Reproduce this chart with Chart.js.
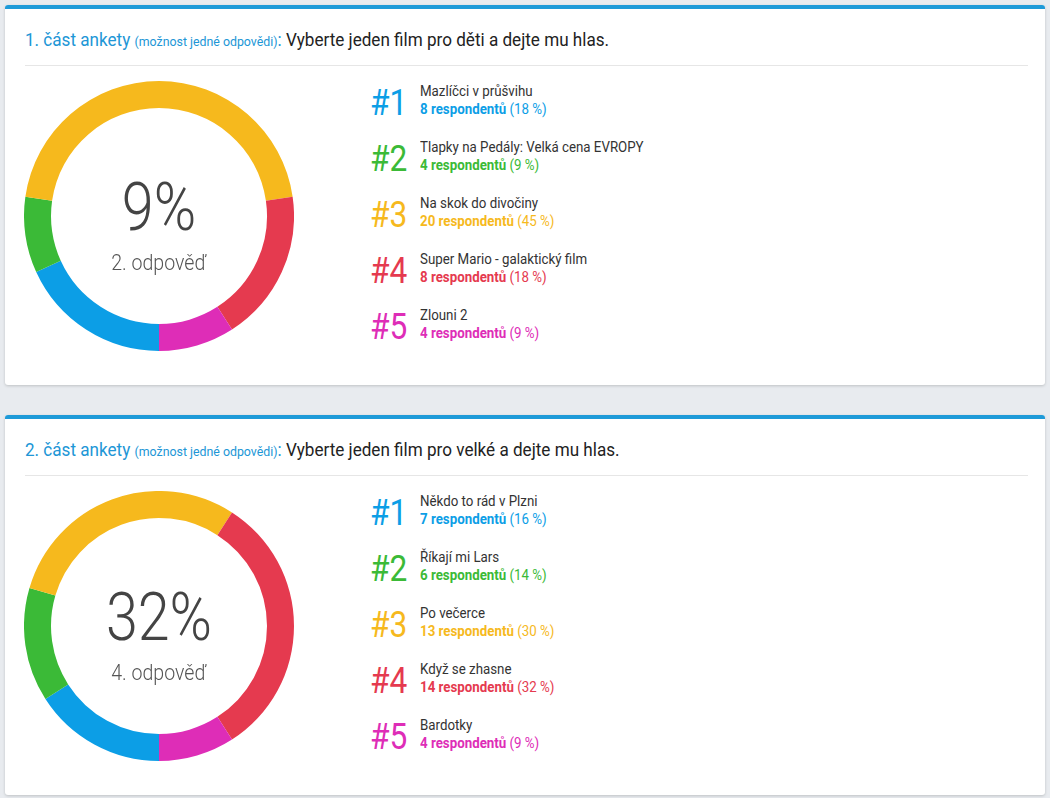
<!DOCTYPE html>
<html>
<head>
<meta charset="utf-8">
<script src="https://cdn.jsdelivr.net/npm/chart.js@4.4.0/dist/chart.umd.min.js"></script>
<style>
  body { margin: 0; background: #e8ebef; font-family: Roboto, sans-serif; width: 1050px; height: 798px; overflow: hidden; position: relative; }
  .card { position: absolute; left: 5px; width: 1040px; height: 380px; background: #fff; border-radius: 3px; box-shadow: 0 1px 3px rgba(0,0,0,0.18); }
  .card .bar { position: absolute; left: 0; top: 0; right: 0; height: 4px; background: #1e9ad8; border-radius: 3px 3px 0 0; }
  .card h2 { position: absolute; left: 20px; top: 24px; margin: 0; font-weight: 400; font-size: 18px; color: #222; white-space: nowrap; transform: scaleX(0.95); transform-origin: left center; }
  .card h2 .part { color: #2196d6; }
  .card h2 .hint { color: #2196d6; font-size: 13px; }
  .card .sep { position: absolute; left: 20px; top: 60px; width: 1003px; height: 1px; background: #e6e6e6; }
  .chartbox { position: absolute; left: 19px; top: 76px; width: 270px; height: 270px; }
  .center { position: absolute; left: 19px; top: 76px; width: 270px; height: 270px; text-align: center; pointer-events: none; }
  .center .big { position: absolute; left: 0; right: 0; top: 94px; font-size: 66px; font-weight: 300; color: #444; line-height: 66px; transform: scaleX(0.87); }
  .center .small { position: absolute; left: 0; right: 0; top: 170px; font-size: 22px; font-weight: 300; color: #555; line-height: 24px; transform: scaleX(0.89); }
  .legend { position: absolute; left: 365px; top: 76px; }
  .item { position: relative; height: 56px; }
  .item .num { position: absolute; left: 0; top: 2px; font-size: 36px; line-height: 40px; transform: scaleX(0.88); transform-origin: left center; }
  .item .name, .item .count { position: absolute; left: 50px; font-size: 14px; white-space: nowrap; transform: scaleX(0.95); transform-origin: left center; }
  .item .name { top: 2px; color: #333; }
  .item .count { top: 20px; }
  .item .count b { font-weight: 700; }
</style>
</head>
<body>
<script>
// poll 1: films for kids
const poll1Title = "Vyberte jeden film pro děti a dejte mu hlas.";
const poll1Labels = ["Mazlíčci v průšvihu", "Tlapky na Pedály: Velká cena EVROPY", "Na skok do divočiny", "Super Mario - galaktický film", "Zlouni 2"];
const poll1Votes = [8, 4, 20, 8, 4];
const poll1Percent = [18, 9, 45, 18, 9];
const poll1Highlight = 1; // index shown in the middle

// poll 2: films for adults
const poll2Title = "Vyberte jeden film pro velké a dejte mu hlas.";
const poll2Labels = ["Někdo to rád v Plzni", "Říkají mi Lars", "Po večerce", "Když se zhasne", "Bardotky"];
const poll2Votes = [7, 6, 13, 14, 4];
const poll2Percent = [16, 14, 30, 32, 9];
const poll2Highlight = 3;

const colors = ["#0c9ee6", "#3bba37", "#f6b91d", "#e53a4f", "#de2db7"];

function buildCard(top, partNo, title, labels, votes, percent, highlight) {
  const card = document.createElement("div");
  card.className = "card";
  card.style.top = top + "px";
  card.innerHTML =
    '<div class="bar"></div>' +
    '<h2><span class="part">' + partNo + '. část ankety <span class="hint">(možnost jedné odpovědi)</span>:</span> ' + title + '</h2>' +
    '<div class="sep"></div>' +
    '<div class="chartbox"><canvas></canvas></div>' +
    '<div class="center"><div class="big">' + percent[highlight] + '%</div><div class="small">' + (highlight + 1) + '. odpověď</div></div>';

  const legend = document.createElement("div");
  legend.className = "legend";
  labels.forEach((label, i) => {
    const item = document.createElement("div");
    item.className = "item";
    item.innerHTML =
      '<div class="num" style="color:' + colors[i] + '">#' + (i + 1) + '</div>' +
      '<div class="name">' + label + '</div>' +
      '<div class="count" style="color:' + colors[i] + '"><b>' + votes[i] + ' respondentů</b> (' + percent[i] + ' %)</div>';
    legend.appendChild(item);
  });
  card.appendChild(legend);
  document.body.appendChild(card);

  const ctx = card.querySelector("canvas").getContext("2d");
  new Chart(ctx, {
    type: "doughnut",
    data: {
      labels: labels,
      datasets: [{
        data: votes,
        backgroundColor: colors,
        borderWidth: 0,
        hoverOffset: 0,
      }],
    },
    options: {
      responsive: true,
      maintainAspectRatio: false,
      animation: false,
      rotation: 180,
      cutout: "80%",
      plugins: {
        legend: { display: false },
        tooltip: { enabled: false },
      },
    },
  });
}

buildCard(5, 1, poll1Title, poll1Labels, poll1Votes, poll1Percent, poll1Highlight);
buildCard(415, 2, poll2Title, poll2Labels, poll2Votes, poll2Percent, poll2Highlight);
</script>
</body>
</html>
